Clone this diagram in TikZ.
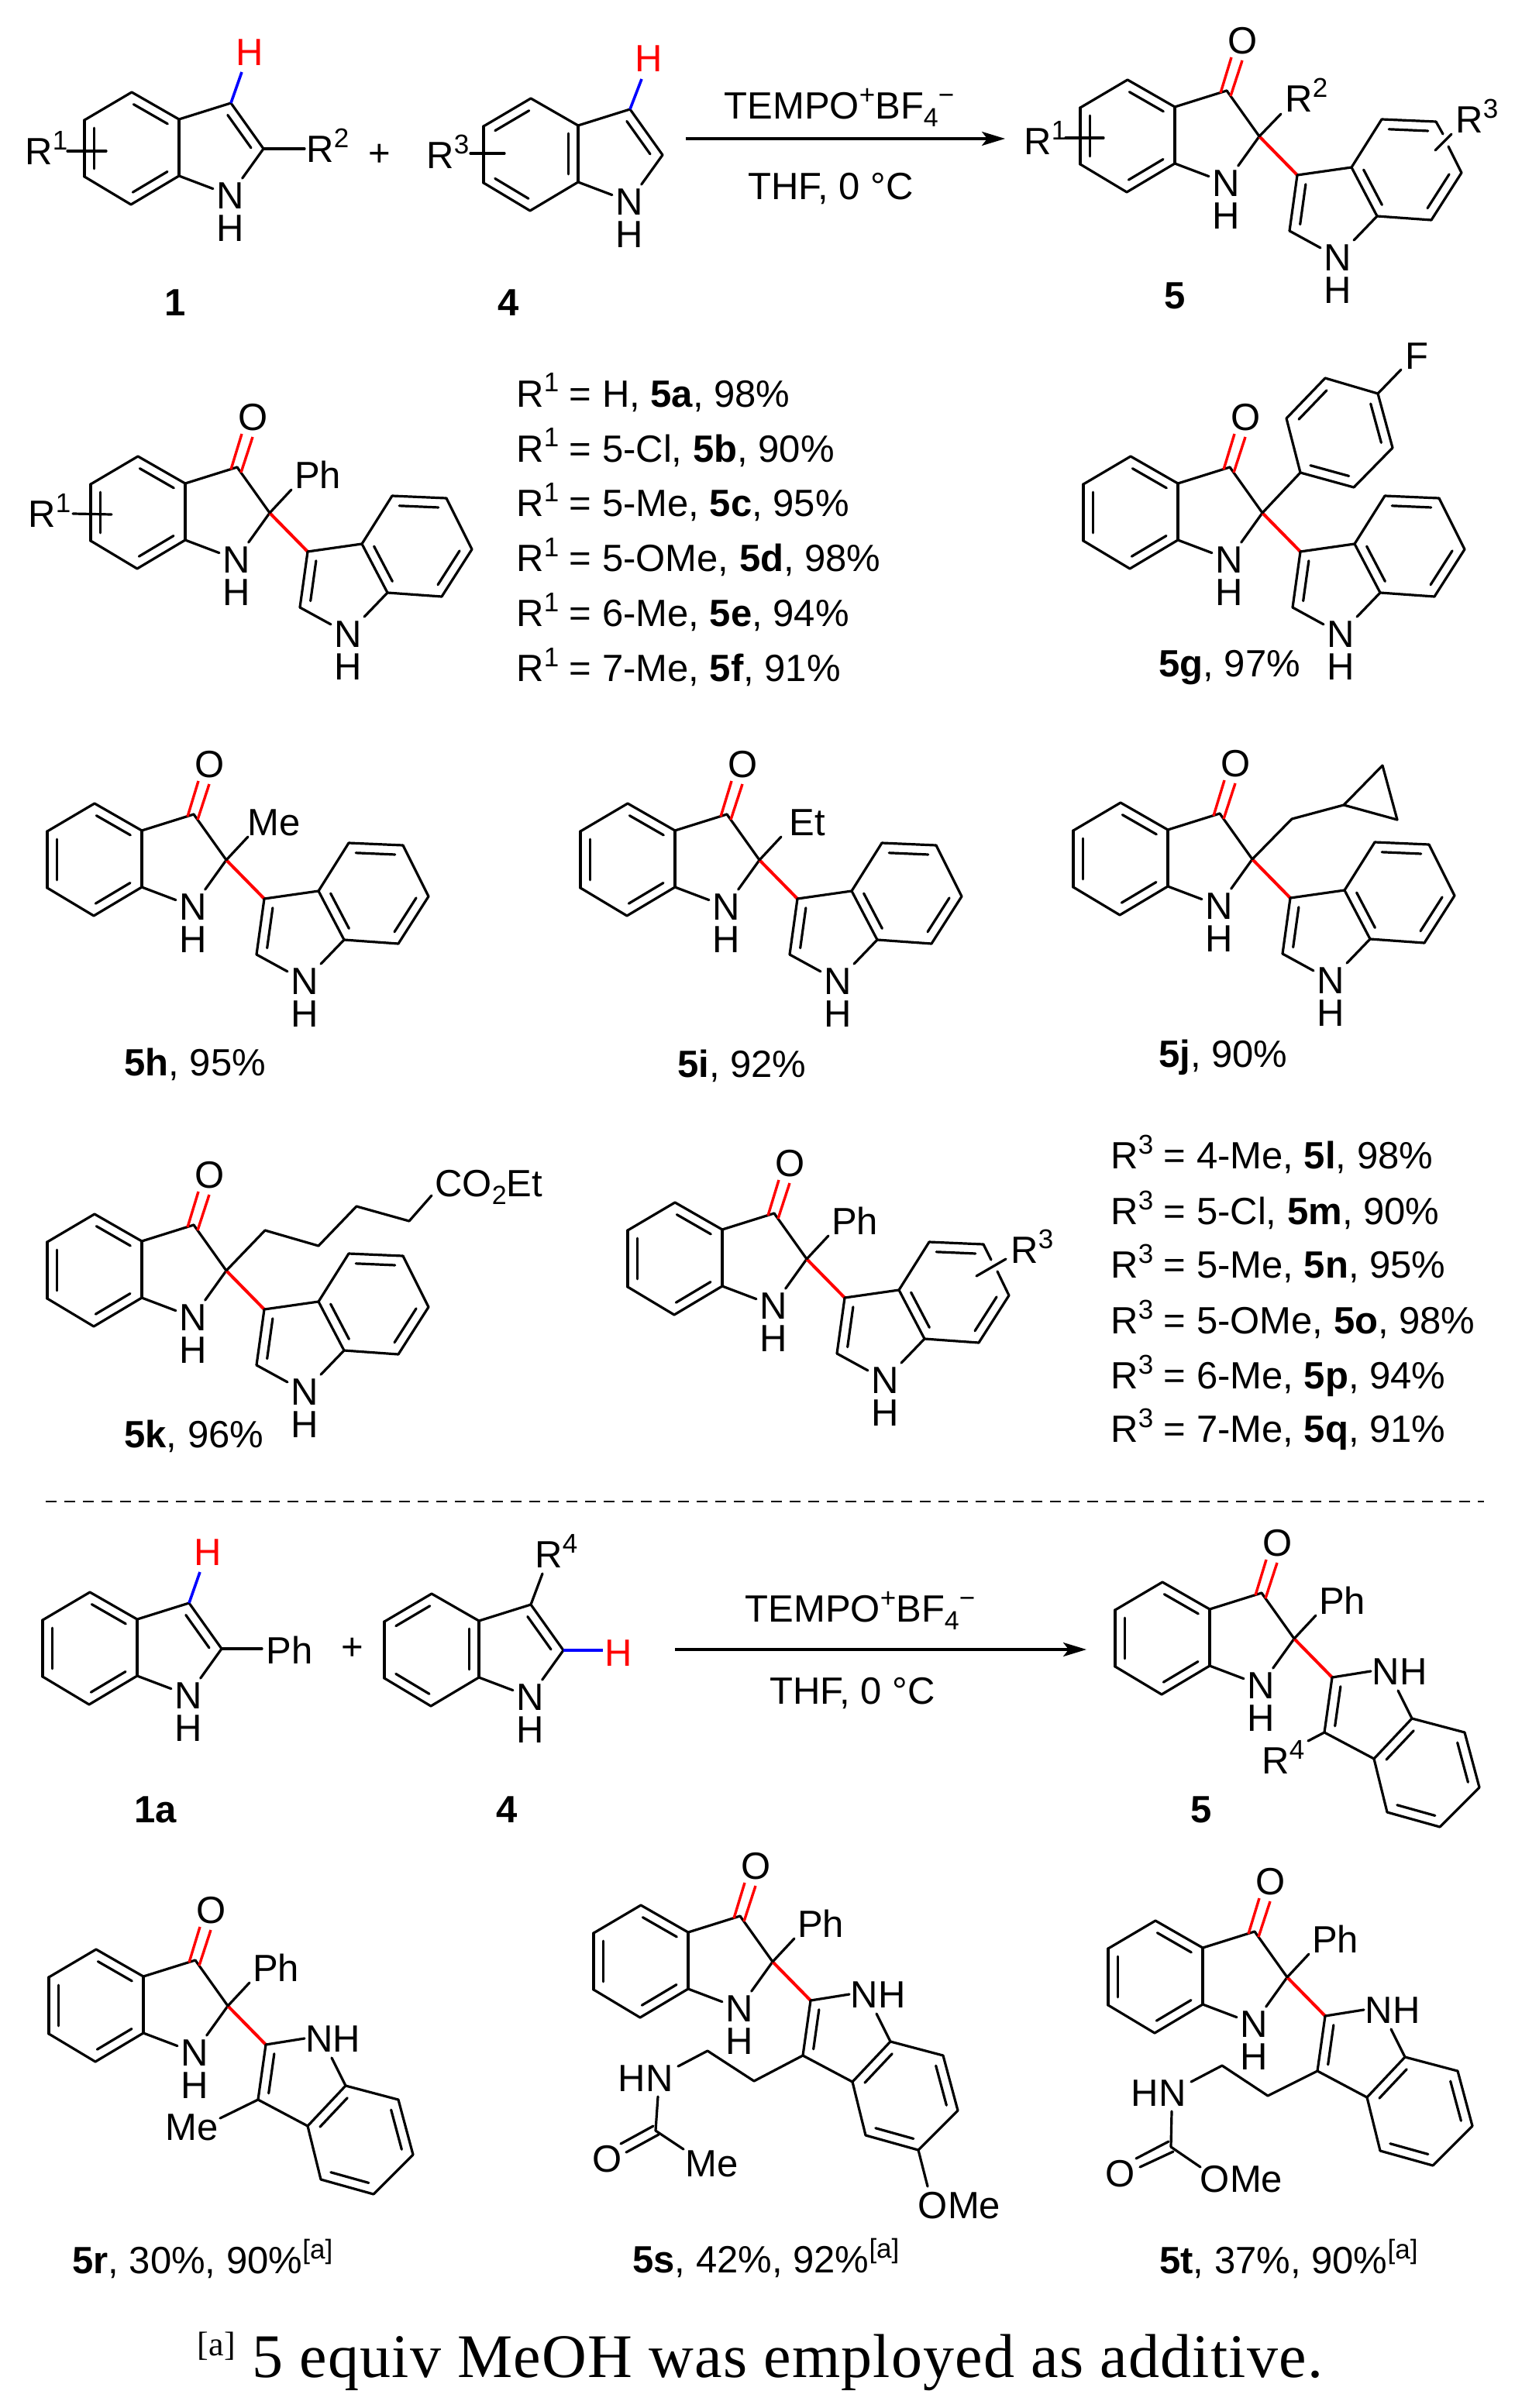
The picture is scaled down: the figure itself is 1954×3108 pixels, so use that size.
\documentclass[tikz,border=0pt]{standalone}
\usepackage{fontspec}
\setmainfont{Liberation Sans}
\newfontfamily\footf[LetterSpace=1.5]{Liberation Serif}
\usetikzlibrary{calc,arrows.meta}
\newcommand\chemf{\fontsize{24.5}{29}\selectfont}
\newcommand\sps[1]{\raisebox{9.5pt}{\fontsize{17.5}{17.5}\selectfont #1}}
\newcommand\subsc[1]{\raisebox{-5pt}{\fontsize{17}{17}\selectfont #1}}
\tikzset{
  bond/.style={line width=1.6pt,line cap=round,line join=round,black},
  redbond/.style={line width=2pt,line cap=butt,red},
  redthin/.style={line width=1.7pt,line cap=butt,red},
  bluebond/.style={line width=1.8pt,line cap=butt,blue},
  atom/.style={inner sep=2pt,text height=17.5pt,text depth=0pt,anchor=center},
  atomw/.style={inner sep=0pt,text height=17.5pt,text depth=0pt,anchor=west},
  redatom/.style={atom,text=red},
  lbl/.style={inner sep=0pt,anchor=base west},
  num/.style={inner sep=0pt,text height=17.5pt,text depth=0pt,anchor=center,font=\chemf\bfseries},
  rxn/.style={-{Stealth[length=15pt,width=9pt,inset=3.5pt]},line width=1.6pt},
}
\newcommand\bnd[2]{\draw[bond] (#1)--(#2);}
\newcommand\dbl[2]{\draw[bond] (#1)--(#2);
  \draw[bond] ($(#1)!.14!(#2)!6.2pt!90:(#2)$)--($(#2)!.14!(#1)!6.2pt!-90:(#1)$);}
% common benzo-fused frame, origin at C2
\newcommand\skel[1]{%
  \coordinate (#1c2) at (0,0);
  \coordinate (#1t) at (-170,-73);
  \coordinate (#1ul) at (-231,-37);
  \coordinate (#1ll) at (-231,36);
  \coordinate (#1b) at (-171,72);
  \coordinate (#1c3a) at (-109,-38);
  \coordinate (#1c7a) at (-109,35);
  \coordinate (#1c3) at (-42,-59);
  \node[atom] (#1n) at (-43,60) {N};
  \node[atom] (#1h) at (-43,102) {H};
}
\newcommand\hexA[1]{%
  \dbl{#1c3a}{#1t}\bnd{#1t}{#1ul}\dbl{#1ul}{#1ll}\bnd{#1ll}{#1b}\dbl{#1b}{#1c7a}\bnd{#1c7a}{#1c3a}}
\newcommand\hexB[1]{%
  \dbl{#1t}{#1ul}\bnd{#1ul}{#1ll}\dbl{#1ll}{#1b}\bnd{#1b}{#1c7a}\dbl{#1c7a}{#1c3a}\bnd{#1c3a}{#1t}}
% oxindole part
\newcommand\oxo[1]{%
  \skel{#1}\hexA{#1}
  \bnd{#1c3a}{#1c3}\bnd{#1c3}{#1c2}\bnd{#1c2}{#1n}\bnd{#1c7a}{#1n}
  \node[atom] (#1o) at (-21,-124) {O};
  \coordinate (#1ola) at (-50,-56);\coordinate (#1olb) at (-36,-102);
  \coordinate (#1ora) at (-37,-52);\coordinate (#1orb) at (-22,-98);
  \draw[redthin] (#1ola)--(#1olb);
  \draw[redthin] (#1ora)--(#1orb);
}
% indol-3-yl without the C5-C6 bond
\newcommand\indcore[1]{%
  \coordinate (#1i3) at (49,50);
  \coordinate (#1i3a) at (119,40);
  \coordinate (#1i4) at (158,-22);
  \coordinate (#1i5) at (228,-19);
  \coordinate (#1i6) at (261,47);
  \coordinate (#1i7) at (222,108);
  \coordinate (#1i7a) at (152,103);
  \coordinate (#1i2) at (39,122);
  \node[atom] (#1in) at (101,156) {N};
  \node[atom] (#1ih) at (101,198) {H};
  \draw[redbond] (#1c2)--(#1i3);
  \dbl{#1i3}{#1i2}\bnd{#1i3}{#1i3a}\dbl{#1i3a}{#1i7a}\bnd{#1i3a}{#1i4}
  \dbl{#1i5}{#1i4}\dbl{#1i7}{#1i6}\bnd{#1i7}{#1i7a}
  \bnd{#1i2}{#1in}\bnd{#1i7a}{#1in}
}
\newcommand\indA[1]{\indcore{#1}\bnd{#1i5}{#1i6}}
% indol-2-yl
\newcommand\indB[1]{%
  \coordinate (#1j2) at (49,50);
  \coordinate (#1j3) at (39,121);
  \coordinate (#1j3a) at (103,155);
  \coordinate (#1j4) at (120,224);
  \coordinate (#1j5) at (188,243);
  \coordinate (#1j6) at (239,192);
  \coordinate (#1j7) at (220,121);
  \coordinate (#1j7a) at (152,103);
  \node[atom,inner sep=0pt] (#1nh) at (136,42) {NH};
  \coordinate (#1nw) at (99,42);
  \coordinate (#1ns) at (134,67);
  \draw[redbond] (#1c2)--(#1j2);
  \dbl{#1j2}{#1j3}\bnd{#1j3}{#1j3a}\dbl{#1j7a}{#1j3a}\bnd{#1j3a}{#1j4}
  \dbl{#1j4}{#1j5}\bnd{#1j5}{#1j6}\dbl{#1j6}{#1j7}\bnd{#1j7}{#1j7a}
  \bnd{#1j2}{#1nw}\bnd{#1ns}{#1j7a}
}
% phenyl-type label at C2
\newcommand\subst[2]{%
  \coordinate (#1se) at (28,-30);
  \node[atom,inner sep=0pt] (#1sl) at (62,-49) {#2};
  \bnd{#1c2}{#1se}
}
\begin{document}
\begin{tikzpicture}[x=.5pt,y=-.5pt,every node/.style={font=\chemf}]
\fill[white] (0,0) rectangle (1954,3108);
\useasboundingbox (0,0) rectangle (1954,3108);

%%% Top equation
\begin{scope}[shift={(340,192)}]
  \skel{a}\hexA{a}
  \dbl{ac2}{ac3}\bnd{ac3}{ac3a}\bnd{ac2}{an}\bnd{ac7a}{an}
\end{scope}
\node[redatom] (ahh) at (322,67) {H};
\coordinate (ahe) at (312,93);
\draw[bluebond] (ac3)--(ahe);
\node[atomw] (ar1) at (32,195) {R\sps{1}};
\coordinate (as1) at (87,195);\coordinate (as2) at (137,195);
\bnd{as1}{as2}
\node[atomw] (ar2) at (395,192) {R\sps{2}};
\coordinate (ar2e) at (393,192);
\bnd{ac2}{ar2e}
\node[atom,inner sep=0pt] (plus1) at (490,197) {+};

\begin{scope}[shift={(855,200)}]
  \skel{b}\hexB{b}
  \dbl{bc2}{bc3}\bnd{bc3}{bc3a}\bnd{bc2}{bn}\bnd{bc7a}{bn}
\end{scope}
\node[redatom] (bhh) at (837,75) {H};
\coordinate (bhe) at (828,102);
\draw[bluebond] (bc3)--(bhe);
\node[atomw] (br3) at (550,200) {R\sps{3}};
\coordinate (bs1) at (607,198);\coordinate (bs2) at (651,198);
\bnd{bs1}{bs2}

\coordinate (ar1s) at (885,179);\coordinate (ar1e) at (1297,179);
\draw[rxn] (ar1s)--(ar1e);
\node[inner sep=0pt] (re1) at (1083,139) {TEMPO\sps{+}BF\subsc{4}\sps{−}};
\node[inner sep=0pt] (so1) at (1072,244) {THF, 0 °C};

\begin{scope}[shift={(1625,176)}]
  \oxo{c}\indcore{c}
  \coordinate (cga) at (237,-3);\coordinate (cgb) at (244,13);
  \coordinate (csa) at (227,18);\coordinate (csb) at (248,-3);
  \bnd{ci5}{cga}\bnd{cgb}{ci6}\bnd{csa}{csb}
  \coordinate (cr2e) at (28,-29);
  \bnd{cc2}{cr2e}
  \node[atomw] (cr2) at (33,-49) {R\sps{2}};
  \node[atomw] (cr3) at (253,-22) {R\sps{3}};
\end{scope}
\node[atomw] (cr1) at (1321,182) {R\sps{1}};
\coordinate (cs1) at (1375,178);\coordinate (cs2) at (1424,178);
\bnd{cs1}{cs2}

\node[num] (n1) at (226,390) {1};
\node[num] (n4) at (656,390) {4};
\node[num] (n5) at (1516,381) {5};

%%% 5a-f
\begin{scope}[shift={(348,662)}]
  \oxo{d}\indA{d}\subst{d}{Ph}
\end{scope}
\node[atomw] (dr1) at (36,663) {R\sps{1}};
\coordinate (ds1) at (94,663);\coordinate (ds2) at (144,664);
\bnd{ds1}{ds2}
\node[lbl] (l1) at (666,525) {R\sps{1} = H, \textbf{5a}, 98\%};
\node[lbl] (l2) at (666,596) {R\sps{1} = 5-Cl, \textbf{5b}, 90\%};
\node[lbl] (l3) at (666,666) {R\sps{1} = 5-Me, \textbf{5c}, 95\%};
\node[lbl] (l4) at (666,737) {R\sps{1} = 5-OMe, \textbf{5d}, 98\%};
\node[lbl] (l5) at (666,808) {R\sps{1} = 6-Me, \textbf{5e}, 94\%};
\node[lbl] (l6) at (666,879) {R\sps{1} = 7-Me, \textbf{5f}, 91\%};

%%% 5g
\begin{scope}[shift={(1629,662)}]
  \oxo{g}\indA{g}
\end{scope}
\coordinate (ga1) at (1678,610);\coordinate (ga2) at (1660,540);
\coordinate (ga3) at (1710,488);\coordinate (ga4) at (1778,508);
\coordinate (ga5) at (1797,578);\coordinate (ga6) at (1747,629);
\coordinate (gfe) at (1808,477);
\node[atom,inner sep=0pt] (gf) at (1828,459) {F};
\bnd{gc2}{ga1}\dbl{ga3}{ga2}\bnd{ga2}{ga1}\dbl{ga1}{ga6}\bnd{ga6}{ga5}\dbl{ga5}{ga4}\bnd{ga4}{ga3}\bnd{ga4}{gfe}
\node[lbl] (gl) at (1495,873) {\textbf{5g}, 97\%};

%%% 5h
\begin{scope}[shift={(292,1110)}]
  \oxo{h}\indA{h}\subst{h}{Me}
\end{scope}
\node[lbl] (hl) at (160,1388) {\textbf{5h}, 95\%};
%%% 5i
\begin{scope}[shift={(980,1110)}]
  \oxo{i}\indA{i}\subst{i}{Et}
\end{scope}
\node[lbl] (il) at (874,1390) {\textbf{5i}, 92\%};
%%% 5j
\begin{scope}[shift={(1616,1109)}]
  \oxo{j}\indA{j}
\end{scope}
\coordinate (jm) at (1667,1057);\coordinate (jp1) at (1734,1039);
\coordinate (jp2) at (1784,988);\coordinate (jp3) at (1803,1058);
\bnd{jc2}{jm}\bnd{jm}{jp1}\bnd{jp1}{jp2}\bnd{jp2}{jp3}\bnd{jp3}{jp1}
\node[lbl] (jl) at (1495,1377) {\textbf{5j}, 90\%};

%%% 5k
\begin{scope}[shift={(292,1640)}]
  \oxo{k}\indA{k}
\end{scope}
\coordinate (k1) at (342,1588);\coordinate (k2) at (411,1608);
\coordinate (k3) at (460,1557);\coordinate (k4) at (528,1576);
\coordinate (k5) at (557,1543);
\bnd{kc2}{k1}\bnd{k1}{k2}\bnd{k2}{k3}\bnd{k3}{k4}\bnd{k4}{k5}
\node[atomw] (kl) at (561,1527) {CO\subsc{2}Et};
\node[lbl] (kc) at (160,1868) {\textbf{5k}, 96\%};

%%% 5l-q
\begin{scope}[shift={(1041,1625)}]
  \oxo{l}\indcore{l}\subst{l}{Ph}
  \coordinate (lga) at (238,1);\coordinate (lgb) at (246,16);
  \coordinate (lsa) at (219,22);\coordinate (lsb) at (257,0);
  \bnd{li5}{lga}\bnd{lgb}{li6}\bnd{lsa}{lsb}
  \node[atomw] (lr3) at (263,-12) {R\sps{3}};
\end{scope}
\node[lbl] (q1) at (1433,1508) {R\sps{3} = 4-Me, \textbf{5l}, 98\%};
\node[lbl] (q2) at (1433,1580) {R\sps{3} = 5-Cl, \textbf{5m}, 90\%};
\node[lbl] (q3) at (1433,1649) {R\sps{3} = 5-Me, \textbf{5n}, 95\%};
\node[lbl] (q4) at (1433,1721) {R\sps{3} = 5-OMe, \textbf{5o}, 98\%};
\node[lbl] (q5) at (1433,1792) {R\sps{3} = 6-Me, \textbf{5p}, 94\%};
\node[lbl] (q6) at (1433,1861) {R\sps{3} = 7-Me, \textbf{5q}, 91\%};

%%% separator
\coordinate (sepa) at (59,1938);\coordinate (sepb) at (1915,1938);
\draw[line width=1.2pt,dash pattern=on 7pt off 5pt] (sepa)--(sepb);

%%% Lower equation
\begin{scope}[shift={(286,2128)}]
  \skel{m}\hexA{m}
  \dbl{mc2}{mc3}\bnd{mc3}{mc3a}\bnd{mc2}{mn}\bnd{mc7a}{mn}
\end{scope}
\node[redatom] (mhh) at (268,2003) {H};
\coordinate (mhe) at (258,2029);
\draw[bluebond] (mc3)--(mhe);
\coordinate (mpe) at (338,2128);
\bnd{mc2}{mpe}
\node[atomw] (mp) at (343,2130) {Ph};
\node[atom,inner sep=0pt] (plus2) at (455,2125) {+};

\begin{scope}[shift={(727,2130)}]
  \skel{o}\hexB{o}
  \dbl{oc2}{oc3}\bnd{oc3}{oc3a}\bnd{oc2}{on}\bnd{oc7a}{on}
\end{scope}
\coordinate (ore) at (700,2031);
\bnd{oc3}{ore}
\node[atomw] (or4) at (690,2006) {R\sps{4}};
\coordinate (ohe) at (778,2130);
\draw[bluebond] (oc2)--(ohe);
\node[redatom] (ohh) at (798,2133) {H};

\coordinate (ar2s) at (871,2129);\coordinate (ar2t) at (1402,2129);
\draw[rxn] (ar2s)--(ar2t);
\node[inner sep=0pt] (re2) at (1110,2079) {TEMPO\sps{+}BF\subsc{4}\sps{−}};
\node[inner sep=0pt] (so2) at (1100,2186) {THF, 0 °C};

\begin{scope}[shift={(1670,2115)}]
  \oxo{p}\indB{p}\subst{p}{Ph}
\end{scope}
\coordinate (pre) at (1688,2247);
\bnd{pj3}{pre}
\node[atomw] (pr4) at (1628,2272) {R\sps{4}};
\node[num] (n1a) at (201,2335) {1a};
\node[num] (n4b) at (654,2335) {4};
\node[num] (n5b) at (1550,2335) {5};

%%% 5r
\begin{scope}[shift={(294,2589)}]
  \oxo{r}\indB{r}\subst{r}{Ph}
\end{scope}
\coordinate (rme) at (284,2734);
\bnd{rj3}{rme}
\node[atom,inner sep=0pt] (rme2) at (248,2745) {Me};
\node[lbl] (rl) at (93,2934) {\textbf{5r}, 30\%, 90\%\sps{[a]}};

%%% 5s
\begin{scope}[shift={(997,2532)}]
  \oxo{s}\indB{s}\subst{s}{Ph}
\end{scope}
\coordinate (sc1) at (973,2686);\coordinate (sc2) at (913,2647);
\coordinate (sc3) at (875,2667);\coordinate (sc4) at (849,2706);
\coordinate (scc) at (846,2750);\coordinate (sme) at (882,2774);
\coordinate (so1a) at (801,2767);\coordinate (so1b) at (843,2744);
\coordinate (so2a) at (808,2778);\coordinate (so2b) at (850,2755);
\coordinate (some) at (1197,2822);
\bnd{sj3}{sc1}\bnd{sc1}{sc2}\bnd{sc2}{sc3}\bnd{sc4}{scc}\bnd{scc}{sme}
\bnd{so1a}{so1b}\bnd{so2a}{so2b}\bnd{sj5}{some}
\node[atom,inner sep=0pt] (shn) at (833,2682) {HN};
\node[atom,inner sep=0pt] (so) at (784,2786) {O};
\node[atom,inner sep=0pt] (smel) at (919,2792) {Me};
\node[atom,inner sep=0pt] (somel) at (1238,2846) {OMe};
\node[lbl] (sl) at (816,2933) {\textbf{5s}, 42\%, 92\%\sps{[a]}};

%%% 5t
\begin{scope}[shift={(1661,2552)}]
  \oxo{u}\indB{u}\subst{u}{Ph}
\end{scope}
\coordinate (uc1) at (1636,2705);\coordinate (uc2) at (1577,2666);
\coordinate (uc3) at (1537,2687);\coordinate (uc4) at (1512,2725);
\coordinate (ucc) at (1511,2771);\coordinate (ume) at (1549,2797);
\coordinate (uo1a) at (1466,2786);\coordinate (uo1b) at (1508,2764);
\coordinate (uo2a) at (1471,2797);\coordinate (uo2b) at (1514,2777);
\bnd{uj3}{uc1}\bnd{uc1}{uc2}\bnd{uc2}{uc3}\bnd{uc4}{ucc}\bnd{ucc}{ume}
\bnd{uo1a}{uo1b}\bnd{uo2a}{uo2b}
\node[atom,inner sep=0pt] (uhn) at (1495,2701) {HN};
\node[atom,inner sep=0pt] (uo) at (1446,2805) {O};
\node[atom,inner sep=0pt] (uomel) at (1602,2812) {OMe};
\node[lbl] (ul) at (1496,2934) {\textbf{5t}, 37\%, 90\%\sps{[a]}};

%%% footnote
\node[lbl,font=\footf\fontsize{40}{43}\selectfont] (foot) at (254,3068)
  {\raisebox{14pt}{\fontsize{22}{22}\selectfont [a]} 5 equiv MeOH was employed as additive.};
\end{tikzpicture}
\end{document}
